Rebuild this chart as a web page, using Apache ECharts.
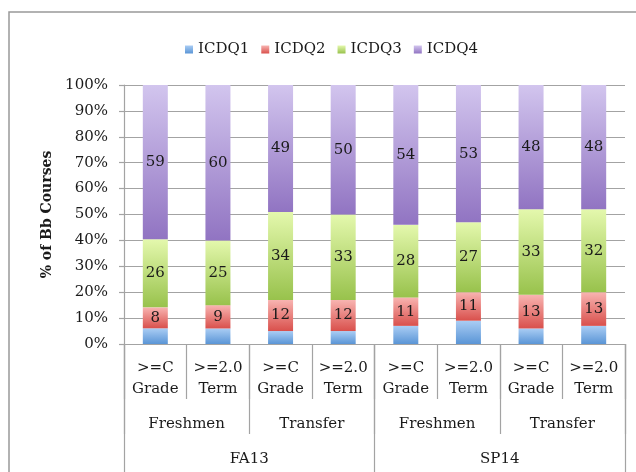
<!DOCTYPE html>
<html>
<head>
<meta charset="utf-8">
<script src="https://cdn.jsdelivr.net/npm/echarts@6/dist/echarts.min.js"></script>
<style>html,body{margin:0;padding:0;background:#fff}#c{width:636px;height:472px}</style>
</head>
<body>
<div id="c"></div>
<script>
var level1 = [">=C\nGrade", ">=2.0\nTerm", ">=C\nGrade", ">=2.0\nTerm", ">=C\nGrade", ">=2.0\nTerm", ">=C\nGrade", ">=2.0\nTerm"];
var level2 = ["Freshmen", "Transfer", "Freshmen", "Transfer"];
var level3 = ["FA13", "SP14"];
var seriesNames = ["ICDQ1", "ICDQ2", "ICDQ3", "ICDQ4"];
var icdq1 = [6, 6, 5, 5, 7, 9, 6, 7];
var icdq2 = [8, 9, 12, 12, 11, 11, 13, 13];
var icdq3 = [26, 25, 34, 33, 28, 27, 33, 32];
var icdq4 = [59, 60, 49, 50, 54, 53, 48, 48];
var yTicks = [0, 10, 20, 30, 40, 50, 60, 70, 80, 90, 100];

var raw = [icdq1, icdq2, icdq3, icdq4];
var totals = level1.map(function (_, i) { return icdq1[i] + icdq2[i] + icdq3[i] + icdq4[i]; });
var grads = [
  ['#aacdf4', '#5a95d6'],
  ['#f8b4b1', '#d9504c'],
  ['#e4f8ad', '#98c24c'],
  ['#d2c5ee', '#9174c2']
];
var FONT = '"DejaVu Serif", "Noto Serif", serif';
var GRAY = '#a3a3a3';

function grad(c) {
  return new echarts.graphic.LinearGradient(0, 0, 0, 1, [{offset: 0, color: c[0]}, {offset: 1, color: c[1]}]);
}

var series = seriesNames.map(function (name, s) {
  return {
    name: name,
    type: 'bar',
    stack: 'all',
    barWidth: 25,
    xAxisIndex: 0,
    itemStyle: {color: grad(grads[s])},
    label: {
      show: s > 0,
      position: 'inside',
      color: '#1a1a1a',
      fontFamily: FONT,
      fontSize: 15,
      formatter: function (p) { return raw[s][p.dataIndex]; }
    },
    data: raw[s].map(function (v, i) { return v / totals[i] * 100; })
  };
});

function catAxis(data, tickLen, margin, lh) {
  return {
    type: 'category',
    position: 'bottom',
    data: data,
    boundaryGap: true,
    axisLine: {show: true, lineStyle: {color: GRAY, width: 1.2}},
    axisTick: {show: true, interval: 0, length: tickLen, lineStyle: {color: GRAY, width: 1.2}},
    axisLabel: {interval: 0, margin: margin, color: '#1a1a1a', fontFamily: FONT, fontSize: 15, lineHeight: lh},
    splitLine: {show: false}
  };
}

var chart = echarts.init(document.getElementById('c'));
chart.setOption({
  animation: false,
  backgroundColor: '#fff',
  graphic: [{
    type: 'rect',
    shape: {x: 9, y: 12, width: 800, height: 800},
    style: {fill: 'none', stroke: '#999', lineWidth: 1.5},
    z: -1
  }],
  legend: {
    data: seriesNames,
    left: 180,
    top: 37,
    itemWidth: 8,
    itemHeight: 8,
    itemGap: 12,
    icon: 'rect',
    textStyle: {fontFamily: FONT, fontSize: 15, color: '#1a1a1a'}
  },
  grid: {left: 124, right: 11, top: 85, bottom: 128, containLabel: false},
  xAxis: [
    catAxis(level1, 55, 14, 21),
    catAxis(level2, 90, 70, 20),
    catAxis(level3, 128, 105, 20)
  ],
  yAxis: {
    type: 'value',
    min: 0,
    max: 100,
    interval: 10,
    name: '% of Bb Courses',
    nameLocation: 'middle',
    nameGap: 70,
    nameRotate: 90,
    nameTextStyle: {fontFamily: FONT, fontSize: 14, fontWeight: 'bold', color: '#1a1a1a'},
    axisLine: {show: true, lineStyle: {color: GRAY, width: 1.2}},
    axisTick: {show: true, length: 5, lineStyle: {color: GRAY, width: 1.2}},
    axisLabel: {margin: 16, color: '#1a1a1a', fontFamily: FONT, fontSize: 15,
      formatter: function (v) { return yTicks.indexOf(v) >= 0 ? v + '%' : ''; }},
    splitLine: {show: true, lineStyle: {color: GRAY, width: 1.2}}
  },
  series: series
});
</script>
</body>
</html>
